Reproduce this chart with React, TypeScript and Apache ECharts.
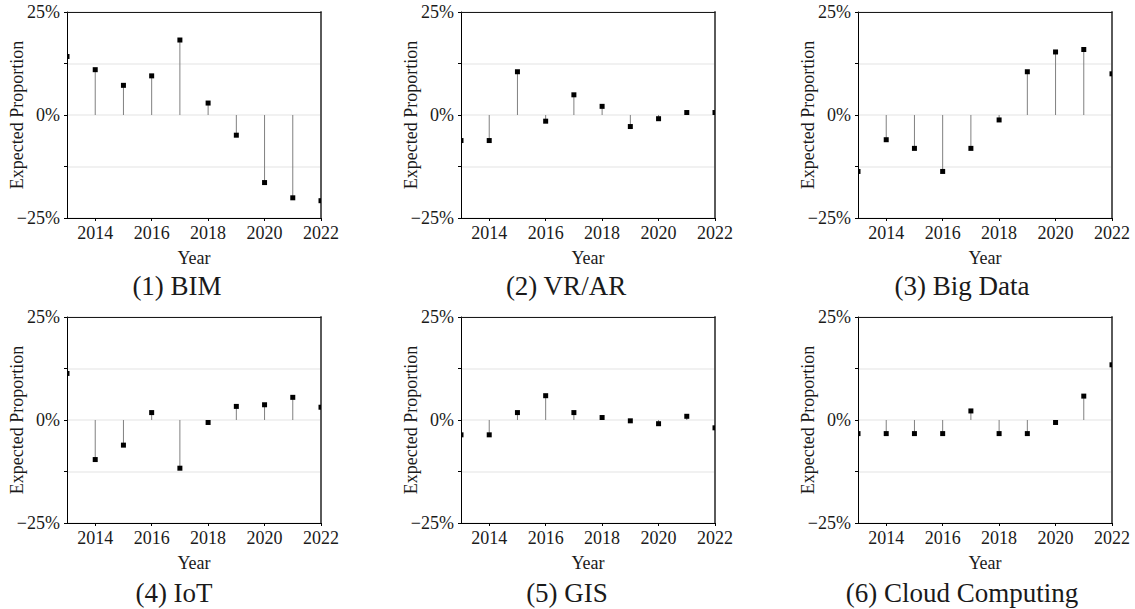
import React, { useEffect, useRef } from "react";
import * as echarts from "echarts";

const years = ["2013", "2014", "2015", "2016", "2017", "2018", "2019", "2020", "2021", "2022"];
const bim = [14.2, 11.0, 7.2, 9.5, 18.2, 2.9, -4.9, -16.4, -20.1, -20.8];
const vrar = [-6.2, -6.2, 10.5, -1.5, 4.9, 2.1, -2.8, -0.9, 0.6, 0.6];
const bigData = [-13.7, -6.0, -8.1, -13.7, -8.1, -1.2, 10.5, 15.3, 15.9, 10.0];
const iot = [11.3, -9.6, -6.1, 1.8, -11.7, -0.6, 3.3, 3.7, 5.5, 3.1];
const gis = [-3.6, -3.6, 1.8, 5.9, 1.8, 0.6, -0.2, -0.9, 0.9, -1.9];
const cloud = [-3.3, -3.3, -3.3, -3.3, 2.2, -3.3, -3.3, -0.6, 5.8, 13.4];

const panelTitles = ["(1) BIM", "(2) VR/AR", "(3) Big Data", "(4) IoT", "(5) GIS", "(6) Cloud Computing"];
const panelData = [bim, vrar, bigData, iot, gis, cloud];
const yTickLabels: Record<string, string> = { "25": "25%", "0": "0%", "-25": "\u221225%" };
const xAxisName = "Year";
const yAxisName = "Expected Proportion";

const FONT = "Liberation Serif";
const TEXT = "#1a1a1a";

const gridPos = [
  { left: 67, top: 12 },
  { left: 461, top: 12 },
  { left: 858, top: 12 },
  { left: 67, top: 317 },
  { left: 461, top: 317 },
  { left: 858, top: 317 },
];
const GW = 254;
const GH = 206;
const titlePos = [
  { x: 177, y: 272 },
  { x: 566, y: 272 },
  { x: 962, y: 272 },
  { x: 174, y: 579 },
  { x: 567, y: 579 },
  { x: 962, y: 579 },
];

export default function App() {
  const ref = useRef<HTMLDivElement>(null);
  useEffect(() => {
    if (!ref.current) return;
    const chart = echarts.init(ref.current, undefined, { renderer: "svg" });

    const grid: any[] = [];
    const xAxis: any[] = [];
    const yAxis: any[] = [];
    const series: any[] = [];
    const title: any[] = [];

    panelData.forEach((vals, k) => {
      grid.push({ left: gridPos[k].left, top: gridPos[k].top, width: GW, height: GH, containLabel: false });
      xAxis.push({
        type: "category",
        gridIndex: k,
        data: years,
        boundaryGap: false,
        position: "bottom",
        name: xAxisName,
        nameLocation: "middle",
        nameGap: 31,
        nameMoveOverlap: false,
        nameTextStyle: { fontFamily: FONT, fontSize: 18, color: TEXT },
        axisLine: { show: true, onZero: false, lineStyle: { color: "#000", width: 1 } },
        axisTick: { show: true, length: 3, interval: (i: number) => i % 2 === 1, lineStyle: { color: "#000" } },
        axisLabel: {
          interval: (i: number) => i % 2 === 1,
          fontFamily: FONT,
          fontSize: 18,
          color: TEXT,
          margin: 6,
        },
        splitLine: { show: false },
      });
      xAxis.push({
        type: "category",
        gridIndex: k,
        data: years,
        boundaryGap: false,
        position: "top",
        axisLine: { show: true, onZero: false, lineStyle: { color: "#1a1a1a", width: 1 } },
        axisTick: { show: false },
        axisLabel: { show: false },
        splitLine: { show: false },
      });
      yAxis.push({
        type: "value",
        gridIndex: k,
        min: -25,
        max: 25,
        interval: 12.5,
        position: "left",
        name: yAxisName,
        nameLocation: "middle",
        nameGap: 41,
        nameMoveOverlap: false,
        nameTextStyle: { fontFamily: FONT, fontSize: 18, color: TEXT },
        axisLine: { show: true, onZero: false, lineStyle: { color: "#000", width: 1 } },
        axisTick: { show: true, length: 3, lineStyle: { color: "#000" } },
        axisLabel: {
          fontFamily: FONT,
          fontSize: 18,
          color: TEXT,
          margin: 7,
          formatter: (v: number) => yTickLabels[String(v)] ?? "",
        },
        splitLine: { show: true, lineStyle: { color: "#ededed", width: 1.5 } },
      });
      yAxis.push({
        type: "value",
        gridIndex: k,
        min: -25,
        max: 25,
        interval: 12.5,
        position: "right",
        axisLine: { show: true, onZero: false, lineStyle: { color: "#5a5a5a", width: 2 } },
        axisTick: { show: false },
        axisLabel: { show: false },
        splitLine: { show: false },
      });
      series.push({
        type: "custom",
        xAxisIndex: k * 2,
        yAxisIndex: k * 2,
        data: vals.map((v, i) => [i, v]),
        encode: { x: 0, y: 1 },
        clip: true,
        renderItem: (params: any, api: any) => {
          const xi = api.value(0);
          const yv = api.value(1);
          const p = api.coord([xi, yv]);
          const p0 = api.coord([xi, 0]);
          const cs = params.coordSys;
          const s = 5;
          const children: any[] = [];
          const atEdge = p[0] <= cs.x + 0.5 || p[0] >= cs.x + cs.width - 0.5;
          if (!atEdge) {
            children.push({
              type: "line",
              shape: { x1: p[0], y1: p0[1], x2: p[0], y2: p[1] },
              style: { stroke: "#808080", lineWidth: 1 },
            });
          }
          const r = echarts.graphic.clipRectByRect(
            { x: p[0] - s / 2, y: p[1] - s / 2, width: s, height: s },
            { x: cs.x, y: cs.y, width: cs.width, height: cs.height }
          );
          if (r) {
            children.push({ type: "rect", shape: r, style: { fill: "#000" } });
          }
          return { type: "group", children };
        },
      });
      title.push({
        text: panelTitles[k],
        left: titlePos[k].x,
        top: titlePos[k].y,
        textAlign: "center",
        padding: 0,
        textStyle: { fontFamily: FONT, fontSize: 27, fontWeight: "normal", color: TEXT },
      });
    });

    chart.setOption({
      animation: false,
      backgroundColor: "#fff",
      textStyle: { fontFamily: FONT },
      title,
      grid,
      xAxis,
      yAxis,
      series,
    });
    return () => chart.dispose();
  }, []);
  return (
    <div
      ref={ref}
      style={{ position: "fixed", left: 0, top: 0, width: 1135, height: 609, background: "#fff" }}
    />
  );
}
